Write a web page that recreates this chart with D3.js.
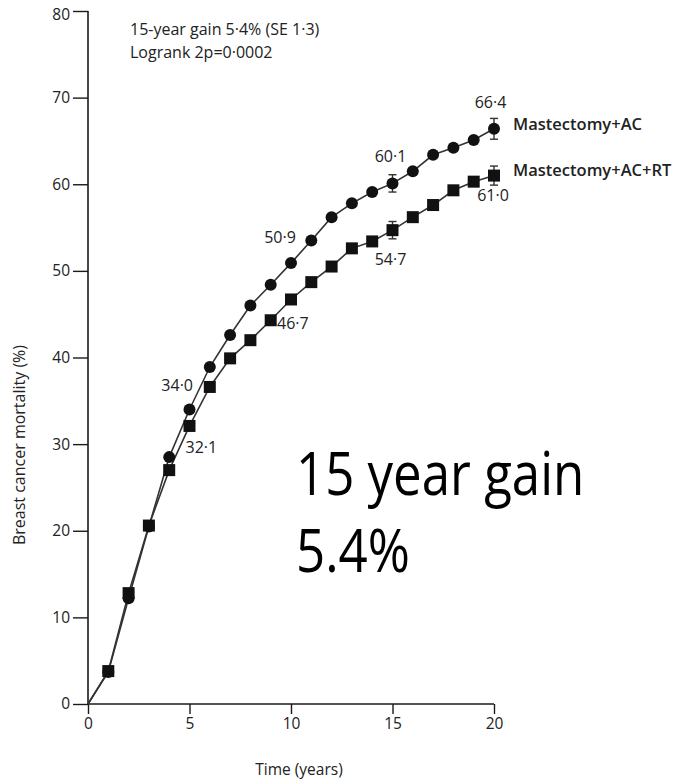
<!DOCTYPE html>
<html>
<head>
<meta charset="utf-8">
<script src="https://cdn.jsdelivr.net/npm/d3@7"></script>
<style>
  body { margin: 0; background: #fff; }
  svg { display: block; }
  text { font-family: "Open Sans", "DejaVu Sans", sans-serif; fill: #222; }
</style>
</head>
<body>
<svg id="chart" width="691" height="779"></svg>
<script>
// Breast cancer mortality by year since randomisation
const years = d3.range(1, 21);
const mastAC   = [3.7, 12.2, 20.5, 28.5, 34.0, 38.9, 42.6, 46.0, 48.4, 50.9,
                  53.5, 56.2, 57.8, 59.1, 60.1, 61.5, 63.4, 64.2, 65.1, 66.4];
const mastACRT = [3.8, 12.8, 20.6, 27.0, 32.1, 36.6, 39.9, 42.0, 44.3, 46.7,
                  48.7, 50.5, 52.6, 53.4, 54.7, 56.2, 57.6, 59.3, 60.3, 61.0];
// standard errors shown at 15 and 20 years
const errYears = [15, 20];
const errAC    = [1.0, 1.2];
const errACRT  = [1.0, 1.1];
// value labels written beside selected points
const labelYearsAC   = [5, 10, 15, 20];
const labelYearsACRT = [5, 10, 15, 20];
const xTicks = [0, 5, 10, 15, 20];
const yTicks = [0, 10, 20, 30, 40, 50, 60, 70, 80];
const seriesNames = ["Mastectomy+AC", "Mastectomy+AC+RT"];

const svg = d3.select("#chart");
const x = d3.scaleLinear().domain([0, 20]).range([88, 494]);
const y = d3.scaleLinear().domain([0, 80]).range([704, 11]);
const ink = "#1a1a1a";
const fmt = v => d3.format(".1f")(v).replace(".", "·");

// axes
const xAxis = svg.append("g").attr("transform", `translate(0,${y(0)})`)
  .call(d3.axisBottom(x).tickValues(xTicks).tickSize(10).tickPadding(4));
const yAxis = svg.append("g").attr("transform", `translate(${x(0)},0)`)
  .call(d3.axisLeft(y).tickValues(yTicks).tickSize(15).tickPadding(3));
[xAxis, yAxis].forEach(g => {
  g.select(".domain").attr("stroke", ink).attr("stroke-width", 1.6);
  g.selectAll(".tick line").attr("stroke", ink).attr("stroke-width", 1.4);
  g.selectAll(".tick text").attr("font-family", '"Open Sans", sans-serif')
    .attr("font-size", 15.5).attr("fill", "#333");
});
// the top label sits a little below its tick so it stays on the page
yAxis.selectAll(".tick text").filter(d => d === 80).attr("dy", "0.55em");
xAxis.select(".domain").attr("d", `M${x(0)},0H${x(20)}`);
yAxis.select(".domain").attr("d", `M0,${y(0)}V${y(80)}`);

// axis titles
svg.append("text").attr("x", 299).attr("y", 775).attr("text-anchor", "middle")
  .attr("font-size", 15.5).text("Time (years)");
svg.append("text").attr("transform", `translate(25,445) rotate(-90)`)
  .attr("text-anchor", "middle").attr("font-size", 16).text("Breast cancer mortality (%)");

// header notes
svg.append("text").attr("x", 130).attr("y", 35).attr("font-size", 16).text("15-year gain 5·4% (SE 1·3)");
svg.append("text").attr("x", 130).attr("y", 58).attr("font-size", 16).text("Logrank 2p=0·0002");

const line = d3.line().x(d => x(d[0])).y(d => y(d[1]));
const ptsAC = [[0, 0]].concat(years.map((t, i) => [t, mastAC[i]]));
const ptsRT = [[0, 0]].concat(years.map((t, i) => [t, mastACRT[i]]));

[ptsAC, ptsRT].forEach(pts => {
  svg.append("path").attr("d", line(pts)).attr("fill", "none")
    .attr("stroke", "#333").attr("stroke-width", 1.6);
});

// error bars
function errBars(vals, errs) {
  errYears.forEach((t, i) => {
    const v = vals[years.indexOf(t)], e = errs[i];
    const cx = x(t), y0 = y(v - e), y1 = y(v + e);
    const g = svg.append("g").attr("stroke", "#333").attr("stroke-width", 1.4);
    g.append("line").attr("x1", cx).attr("x2", cx).attr("y1", y0).attr("y2", y1);
    g.append("line").attr("x1", cx - 4).attr("x2", cx + 4).attr("y1", y0).attr("y2", y0);
    g.append("line").attr("x1", cx - 4).attr("x2", cx + 4).attr("y1", y1).attr("y2", y1);
  });
}
errBars(mastAC, errAC);
errBars(mastACRT, errACRT);

// markers: circles for Mastectomy+AC, squares for Mastectomy+AC+RT
svg.append("g").selectAll("circle").data(ptsAC.slice(1)).join("circle")
  .attr("cx", d => x(d[0])).attr("cy", d => y(d[1])).attr("r", 6).attr("fill", "#111");
svg.append("g").selectAll("rect").data(ptsRT.slice(1)).join("rect")
  .attr("x", d => x(d[0]) - 6).attr("y", d => y(d[1]) - 6)
  .attr("width", 12).attr("height", 12).attr("fill", "#111");

// value labels: [dx, dy, anchor] relative to the marker
const offAC = {5: [3.5, -18, "end"], 10: [-11, -20, "middle"], 15: [-2, -21.5, "middle"], 20: [-3.5, -21, "middle"]};
const offRT = {5: [-4, 27, "start"], 10: [-14, 30, "start"], 15: [-2, 35, "middle"], 20: [-1, 25, "middle"]};
labelYearsAC.forEach(t => {
  const v = mastAC[years.indexOf(t)], o = offAC[t];
  svg.append("text").attr("x", x(t) + o[0]).attr("y", y(v) + o[1]).attr("text-anchor", o[2])
    .attr("font-size", 16).attr("fill", "#333").text(fmt(v));
});
labelYearsACRT.forEach(t => {
  const v = mastACRT[years.indexOf(t)], o = offRT[t];
  svg.append("text").attr("x", x(t) + o[0]).attr("y", y(v) + o[1]).attr("text-anchor", o[2])
    .attr("font-size", 16).attr("fill", "#333").text(fmt(v));
});

// series names at line ends
svg.append("text").attr("x", 513).attr("y", 130).attr("font-size", 16.5)
  .attr("font-weight", 600).attr("fill", "#222").text(seriesNames[0]);
svg.append("text").attr("x", 513).attr("y", 176).attr("font-size", 16.5)
  .attr("font-weight", 600).attr("fill", "#222").text(seriesNames[1]);

// large annotation, narrow setting
const big = svg.append("text").attr("transform", "translate(296,0) scale(0.85,1)")
  .attr("font-family", '"Liberation Sans", Arial, sans-serif')
  .attr("font-size", 60).style("fill", "#000");
big.append("tspan").attr("x", 0).attr("y", 495).text("15 year gain");
big.append("tspan").attr("x", 0).attr("y", 572).text("5.4%");
</script>
</body>
</html>
